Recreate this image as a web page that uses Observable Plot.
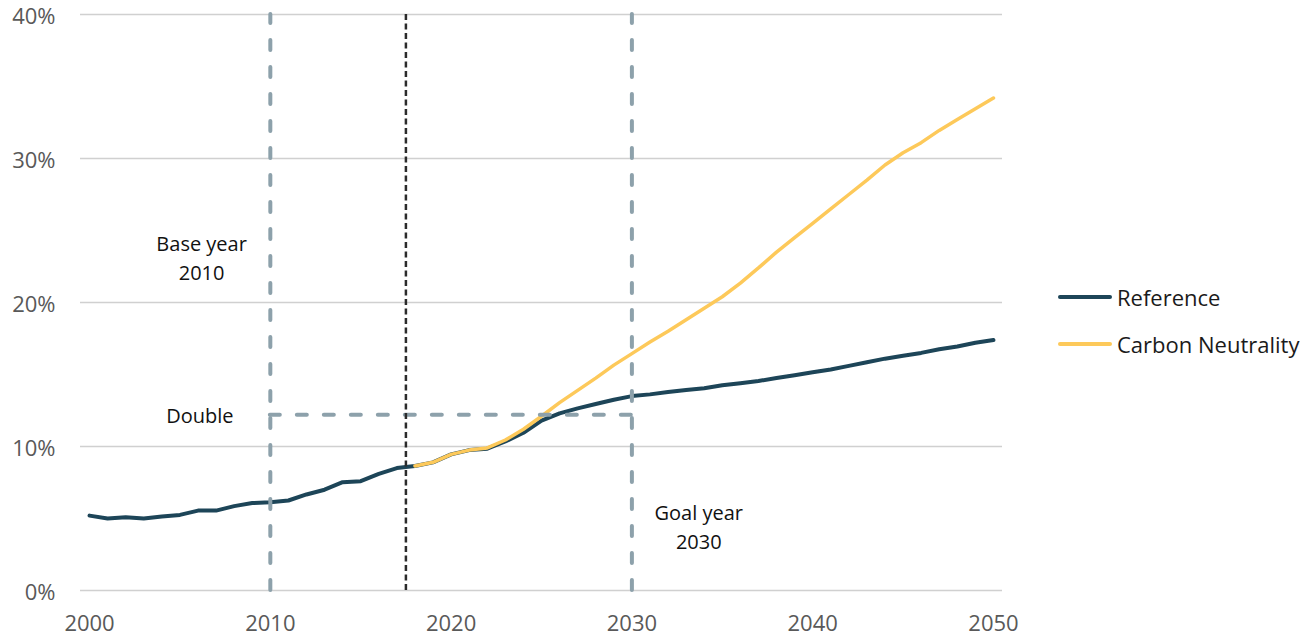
<!DOCTYPE html>
<html>
<head>
<meta charset="utf-8">
<script src="https://cdn.jsdelivr.net/npm/d3@7"></script>
<script src="https://cdn.jsdelivr.net/npm/@observablehq/plot@0.6"></script>
<style>
  html, body { margin: 0; padding: 0; background: #fff; }
  #wrap { position: relative; width: 1306px; height: 639px; font-family: "Open Sans", sans-serif; }
  #legend { position: absolute; left: 1058px; top: 280px; font-size: 22px; color: #1a1a1a; }
  .item { display: flex; align-items: center; height: 34px; margin-bottom: 13px; }
  .swatch { width: 54px; height: 4px; border-radius: 2px; margin-right: 5px; }
</style>
</head>
<body>
<div id="wrap"></div>
<script>
const years = d3.range(2000, 2051);
const reference = [5.2, 5.0, 5.09, 5.0, 5.14, 5.25, 5.55, 5.55, 5.86, 6.07,
  6.13, 6.25, 6.67, 7.0, 7.52, 7.59, 8.1, 8.5, 8.65, 8.9,
  9.45, 9.75, 9.85, 10.35, 10.95, 11.8, 12.3, 12.65, 12.95, 13.25,
  13.5, 13.62, 13.78, 13.92, 14.05, 14.25, 14.4, 14.55, 14.75, 14.95,
  15.15, 15.35, 15.6, 15.85, 16.1, 16.3, 16.5, 16.75, 16.95, 17.2, 17.4];
const carbonYears = d3.range(2018, 2051);
const carbon = [8.65, 8.9, 9.45, 9.75, 9.9, 10.45, 11.2, 12.1, 13.05, 13.9,
  14.75, 15.65, 16.45, 17.25, 18.0, 18.8, 19.6, 20.4, 21.35, 22.4,
  23.5, 24.5, 25.5, 26.5, 27.5, 28.5, 29.55, 30.4, 31.1, 31.95,
  32.7, 33.45, 34.2];
const seriesNames = ["Reference", "Carbon Neutrality"];
const seriesColors = ["#1d4558", "#fdc95a"];
const xTicks = [2000, 2010, 2020, 2030, 2040, 2050];
const yTicks = [0, 10, 20, 30, 40];
const markerYears = [2010, 2030];
const historyEnd = [2017.5];
const doubleLevel = 12.2;
const labels = ["Base year\n2010", "Double", "Goal year\n2030"];
const labelX = [2006.2, 2006.1, 2033.7];
const labelY = [23.2, 12.3, 4.5];

const refData = years.map((y, i) => ({year: y, value: reference[i]}));
const cnData = carbonYears.map((y, i) => ({year: y, value: carbon[i]}));
const labelData = labels.map((t, i) => ({text: t, x: labelX[i], y: labelY[i]}));

const chart = Plot.plot({
  width: 1306, height: 639,
  marginLeft: 80, marginRight: 304, marginTop: 14, marginBottom: 49,
  style: {fontFamily: "Open Sans, sans-serif", fontSize: "22px", color: "#595959", background: "#fff", overflow: "visible"},
  x: {domain: [1999.5, 2050.5]},
  y: {domain: [0, 40]},
  marks: [
    Plot.gridY(yTicks, {stroke: "#d0d0d0", strokeOpacity: 1, strokeWidth: 1.5}),
    Plot.axisY(yTicks, {tickSize: 0, tickPadding: 25, tickFormat: d => d + "%", fontSize: 22, dy: 2, label: null}),
    Plot.axisX(xTicks, {tickSize: 0, tickPadding: 25, tickFormat: d => String(d), fontSize: 22, label: null}),
    Plot.lineY(refData, {x: "year", y: "value", stroke: seriesColors[0], strokeWidth: 4, strokeLinejoin: "round", strokeLinecap: "round"}),
    Plot.lineY(cnData, {x: "year", y: "value", stroke: seriesColors[1], strokeWidth: 3.5, strokeLinejoin: "round", strokeLinecap: "round"}),
    Plot.ruleX(markerYears, {y1: 0, y2: 40, stroke: "#8da1ab", strokeWidth: 4, strokeDasharray: "10,17", strokeLinecap: "round"}),
    Plot.ruleY([doubleLevel], {x1: markerYears[0], x2: markerYears[1], stroke: "#8da1ab", strokeWidth: 4, strokeDasharray: "10,17", strokeLinecap: "round"}),
    Plot.ruleX(historyEnd, {y1: 0, y2: 40, stroke: "#2b2b2b", strokeWidth: 2.5, strokeDasharray: "6,3.5"}),
    Plot.text(labelData, {x: "x", y: "y", text: "text", fill: "#111", fontSize: 20, lineHeight: 1.45, textAnchor: "middle", fontFamily: "Open Sans, sans-serif"})
  ]
});
document.getElementById("wrap").appendChild(chart);

const legend = document.createElement("div");
legend.id = "legend";
seriesNames.forEach((n, i) => {
  const it = document.createElement("div");
  it.className = "item";
  const sw = document.createElement("div");
  sw.className = "swatch";
  sw.style.background = seriesColors[i];
  const lb = document.createElement("span");
  lb.textContent = n;
  it.appendChild(sw); it.appendChild(lb);
  legend.appendChild(it);
});
document.getElementById("wrap").appendChild(legend);
</script>
</body>
</html>
